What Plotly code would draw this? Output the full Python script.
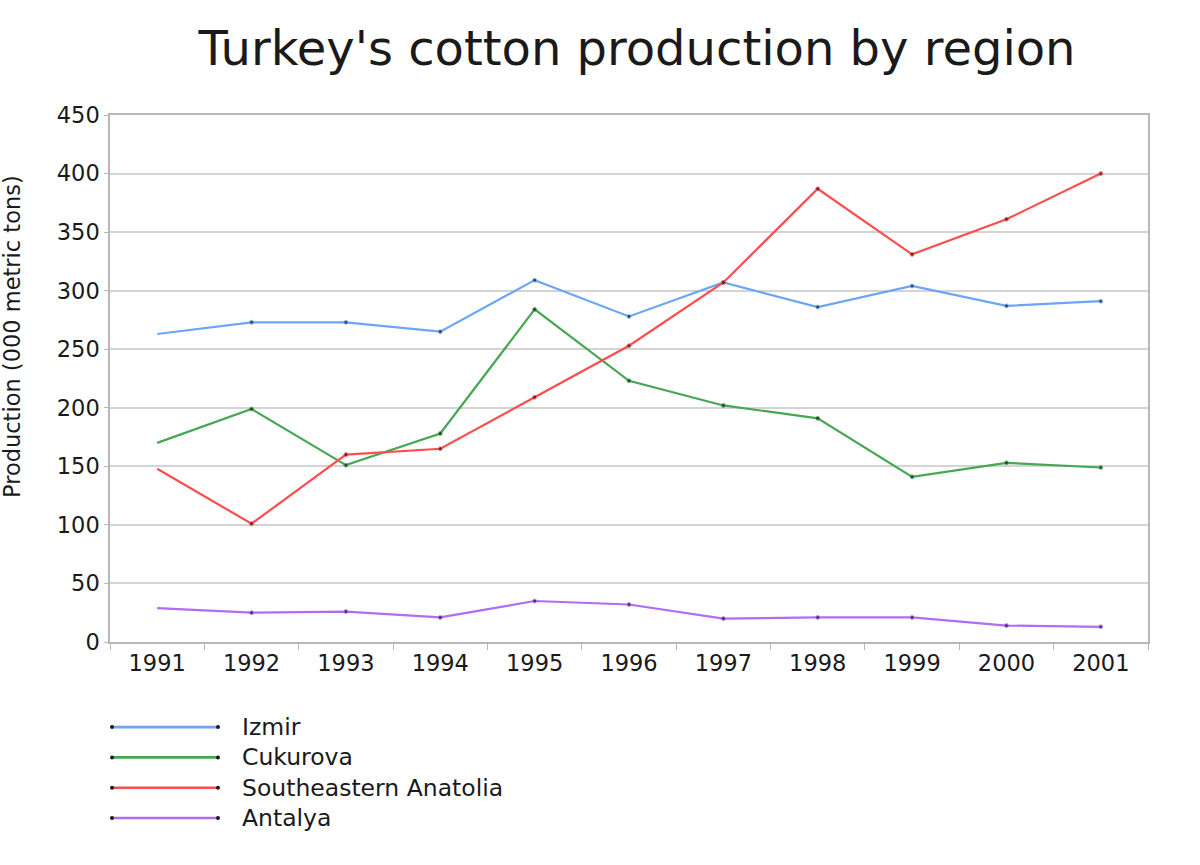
import plotly.graph_objects as go

years = ["1991", "1992", "1993", "1994", "1995", "1996", "1997", "1998", "1999", "2000", "2001"]
izmir = [263, 273, 273, 265, 309, 278, 307, 286, 304, 287, 291]
cukurova = [170, 199, 151, 178, 284, 223, 202, 191, 141, 153, 149]
se_anatolia = [148, 101, 160, 165, 209, 253, 307, 387, 331, 361, 400]
antalya = [29, 25, 26, 21, 35, 32, 20, 21, 21, 14, 13]

series_names = ["Izmir", "Cukurova", "Southeastern Anatolia", "Antalya"]
series_values = [izmir, cukurova, se_anatolia, antalya]
colors = ["#6aa6f5", "#45a752", "#ff4d4d", "#b06cf5"]
y_ticks = [0, 50, 100, 150, 200, 250, 300, 350, 400, 450]

FONT = "DejaVu Sans"
TXT = "#1a1a1a"
fig = go.Figure()

for name, vals, col in zip(series_names, series_values, colors):
    sizes = [0] + [4] * (len(vals) - 1)
    fig.add_trace(go.Scatter(
        x=years, y=vals, name=name, mode="lines+markers",
        line=dict(color=col, width=2.2),
        marker=dict(color=TXT, size=sizes),
        showlegend=False, xaxis="x", yaxis="y",
    ))

# custom legend drawn on a secondary axis pair
for i, (name, col) in enumerate(zip(series_names, colors)):
    row = 3 - i
    fig.add_trace(go.Scatter(
        x=[2, 108], y=[row, row], mode="lines+markers",
        line=dict(color=col, width=2.6),
        marker=dict(color=TXT, size=4),
        showlegend=False, xaxis="x2", yaxis="y2", hoverinfo="skip",
    ))
    fig.add_annotation(x=130, y=row, xref="x2", yref="y2", text=name,
                       showarrow=False, xanchor="left", yanchor="middle",
                       font=dict(family=FONT, size=23.5, color=TXT))

plot_top, plot_bot = 115, 835
H = plot_bot - plot_top
main_bottom = (plot_bot - 642) / H

fig.add_annotation(x=(12 - 110) / 1038, y=(plot_bot - 337) / H, xref="paper", yref="paper",
                   text="Production (000 metric tons)", xanchor="center", yanchor="middle",
                   showarrow=False, textangle=-90, font=dict(family=FONT, size=22.5, color=TXT))

fig.update_layout(
    width=1200, height=865,
    margin=dict(l=110, r=52, t=plot_top, b=865 - plot_bot),
    paper_bgcolor="white", plot_bgcolor="white",
    font=dict(family=FONT, size=22, color=TXT),
    title=dict(text="Turkey's cotton production by region", x=637 / 1200, xanchor="center",
               y=1 - 48 / 865, yanchor="middle", yref="container",
               font=dict(family=FONT, size=48, color=TXT)),
    xaxis=dict(type="category", range=[-0.5, 10.5], domain=[0, 1], anchor="y",
               showgrid=False, showline=True, linecolor="#b8b8b8", linewidth=1.5, mirror=True,
               ticks="outside", tickson="boundaries", ticklen=6, tickcolor="#b8b8b8",
               tickfont=dict(family=FONT, size=22.5, color=TXT), zeroline=False),
    yaxis=dict(range=[0, 450], domain=[main_bottom, 1], anchor="x", tickvals=y_ticks,
               showgrid=True, gridcolor="#d4d4d4", gridwidth=1.5,
               showline=True, linecolor="#b8b8b8", linewidth=1.5, mirror=True,
               ticks="outside", ticklen=4, tickcolor="#b8b8b8",
               tickfont=dict(family=FONT, size=22.5, color=TXT), zeroline=False),
    xaxis2=dict(range=[0, 1038], domain=[0, 1], anchor="y2", visible=False),
    yaxis2=dict(range=[-0.56, 4.19], domain=[0, 144 / H], anchor="x2", visible=False),
)

fig.write_html("out.html")
